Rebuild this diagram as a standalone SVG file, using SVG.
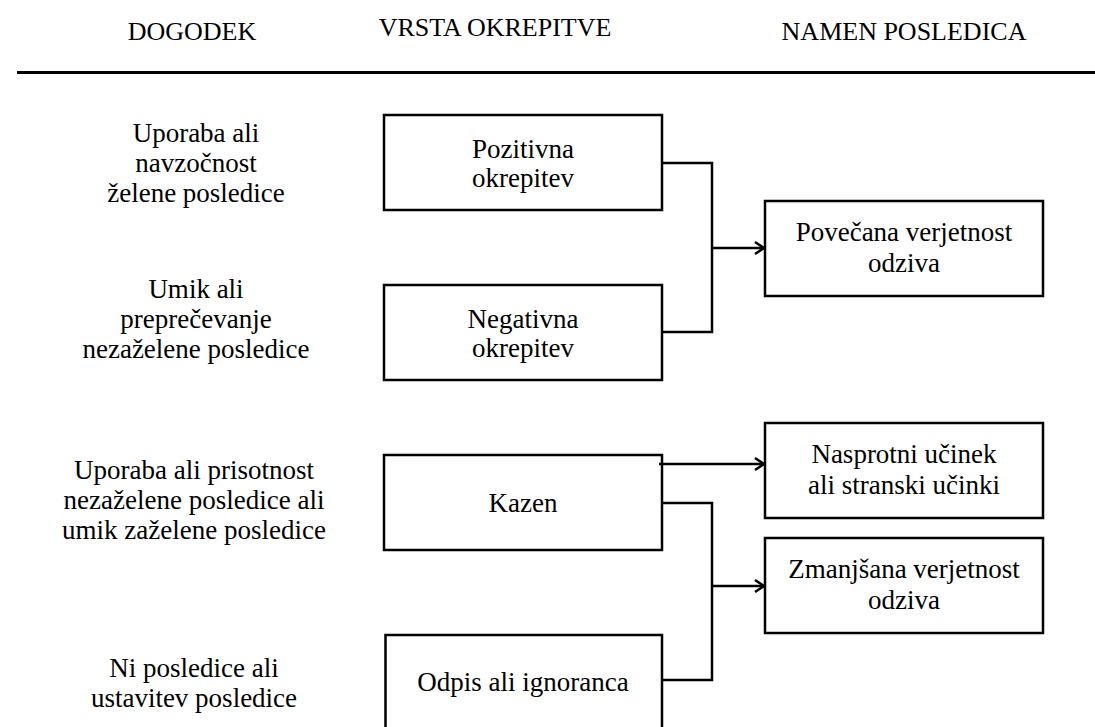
<svg xmlns="http://www.w3.org/2000/svg" width="1095" height="727" viewBox="0 0 1095 727">
  <style>
    text { font-family: "Liberation Serif", "Times New Roman", serif; fill: #000; text-anchor: middle; }
    .head { font-size: 26px; }
    .lbl { font-size: 27px; }
    .box { fill: #fff; stroke: #000; stroke-width: 2.5; }
    .wire { fill: none; stroke: #000; stroke-width: 2.5; }
  </style>
  <defs>
    <marker id="arr" markerWidth="14" markerHeight="14" refX="11" refY="7" orient="auto" markerUnits="userSpaceOnUse">
      <path d="M2,1 L11,7 L2,13" fill="none" stroke="#000" stroke-width="2.5"/>
    </marker>
  </defs>
  <rect width="1095" height="727" fill="#fff"/>

  <!-- column headings -->
  <g id="headings">
    <text class="head" x="192" y="40">DOGODEK</text>
    <text class="head" x="495" y="36">VRSTA OKREPITVE</text>
    <text class="head" x="904" y="40">NAMEN POSLEDICA</text>
    <line x1="17" y1="72.5" x2="1095" y2="72.5" stroke="#000" stroke-width="3"/>
  </g>

  <!-- event descriptions -->
  <g id="event-1">
    <text class="lbl" x="196" y="142">Uporaba ali</text>
    <text class="lbl" x="196" y="172">navzočnost</text>
    <text class="lbl" x="196" y="202">želene posledice</text>
  </g>
  <g id="event-2">
    <text class="lbl" x="196" y="298">Umik ali</text>
    <text class="lbl" x="196" y="328">preprečevanje</text>
    <text class="lbl" x="196" y="358">nezaželene posledice</text>
  </g>
  <g id="event-3">
    <text class="lbl" x="194" y="479">Uporaba ali prisotnost</text>
    <text class="lbl" x="194" y="509">nezaželene posledice ali</text>
    <text class="lbl" x="194" y="539">umik zaželene posledice</text>
  </g>
  <g id="event-4">
    <text class="lbl" x="194" y="677">Ni posledice ali</text>
    <text class="lbl" x="194" y="707">ustavitev posledice</text>
  </g>

  <!-- reinforcement types -->
  <g id="pozitivna">
    <rect class="box" x="384" y="115" width="278" height="95"/>
    <text class="lbl" x="523" y="158">Pozitivna</text>
    <text class="lbl" x="523" y="187">okrepitev</text>
  </g>
  <g id="negativna">
    <rect class="box" x="384" y="285" width="278" height="95"/>
    <text class="lbl" x="523" y="328">Negativna</text>
    <text class="lbl" x="523" y="357">okrepitev</text>
  </g>
  <g id="kazen">
    <rect class="box" x="384" y="455" width="278" height="95"/>
    <text class="lbl" x="523" y="512">Kazen</text>
  </g>
  <g id="odpis">
    <rect class="box" x="385.5" y="635" width="276.5" height="100"/>
    <text class="lbl" x="523" y="691">Odpis ali ignoranca</text>
  </g>

  <!-- outcomes -->
  <g id="povecana">
    <rect class="box" x="765" y="201" width="278" height="95"/>
    <text class="lbl" x="904" y="241">Povečana verjetnost</text>
    <text class="lbl" x="904" y="272">odziva</text>
  </g>
  <g id="nasprotni">
    <rect class="box" x="765" y="423" width="278" height="95"/>
    <text class="lbl" x="904" y="463">Nasprotni učinek</text>
    <text class="lbl" x="904" y="494">ali stranski učinki</text>
  </g>
  <g id="zmanjsana">
    <rect class="box" x="765" y="538" width="278" height="95"/>
    <text class="lbl" x="904" y="578">Zmanjšana verjetnost</text>
    <text class="lbl" x="904" y="609">odziva</text>
  </g>

  <!-- connectors -->
  <g id="connectors">
    <path class="wire" d="M662,163 H712 V332 H662"/>
    <path class="wire" d="M712,248 H764" stroke-width="3" marker-end="url(#arr)"/>
    <path class="wire" d="M659,464 H764" marker-end="url(#arr)"/>
    <path class="wire" d="M662,503 H712 V680 H662"/>
    <path class="wire" d="M712,586 H764" stroke-width="3" marker-end="url(#arr)"/>
  </g>
</svg>
